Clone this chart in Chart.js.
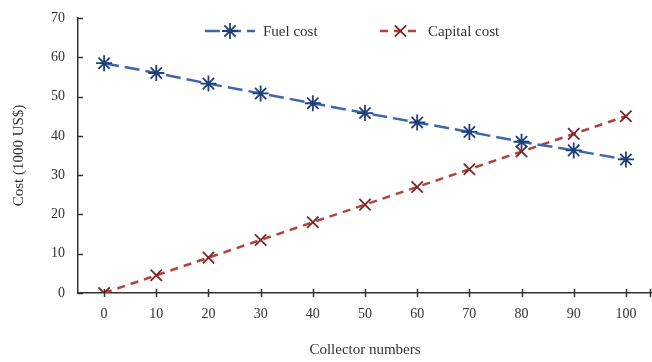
<!DOCTYPE html>
<html>
<head>
<meta charset="utf-8">
<script src="https://cdn.jsdelivr.net/npm/chart.js@4.4.0/dist/chart.umd.min.js"></script>
<style>
  html, body { margin: 0; padding: 0; background: #fff; }
  #wrap { width: 652px; height: 362px; }
</style>
</head>
<body>
<div id="wrap"><canvas id="chart" width="652" height="362"></canvas></div>
<script>
// chart data
const collectorNumbers = ['0', '10', '20', '30', '40', '50', '60', '70', '80', '90', '100'];
const fuelCost = [58.5, 56, 53.3, 50.8, 48.3, 45.8, 43.4, 41, 38.5, 36.3, 34];
const capitalCost = [0, 4.5, 9, 13.5, 18, 22.5, 27, 31.5, 36, 40.5, 45];
const yTicks = [0, 10, 20, 30, 40, 50, 60, 70];

const serif = "'Liberation Serif', 'DejaVu Serif', serif";
const textColor = '#333';

// tick marks: y ticks point inward, x ticks cross the axis
const tickMarks = {
  id: 'tickMarks',
  afterDraw(chart) {
    const ctx = chart.ctx;
    const x = chart.scales.x, y = chart.scales.y;
    ctx.save();
    ctx.strokeStyle = '#333';
    ctx.lineWidth = 1.5;
    yTicks.forEach(v => {
      const py = Math.round(y.getPixelForValue(v)) + 0.5;
      ctx.beginPath();
      ctx.moveTo(x.left, py);
      ctx.lineTo(x.left + 5, py);
      ctx.stroke();
    });
    const xs = collectorNumbers.map((c, i) => x.getPixelForValue(i));
    xs.push(x.right - 2);
    xs.forEach(p => {
      const px = Math.round(p) + 0.5;
      ctx.beginPath();
      ctx.moveTo(px, y.bottom - 4);
      ctx.lineTo(px, y.bottom + 4);
      ctx.stroke();
    });
    ctx.restore();
  }
};

// legend drawn inside the plot area, line + marker like the original
const innerLegend = {
  id: 'innerLegend',
  afterDraw(chart) {
    const ctx = chart.ctx;
    const items = [
      { ds: chart.data.datasets[0], x0: 205, x1: 255, tx: 263 },
      { ds: chart.data.datasets[1], x0: 380, x1: 421, tx: 428 }
    ];
    const ly = 31;
    items.forEach(it => {
      ctx.save();
      ctx.strokeStyle = it.ds.borderColor;
      ctx.lineWidth = it.ds.borderWidth;
      ctx.setLineDash(it.ds.borderDash);
      ctx.beginPath();
      ctx.moveTo(it.x0, ly);
      ctx.lineTo(it.x1, ly);
      ctx.stroke();
      ctx.setLineDash([]);
      ctx.strokeStyle = it.ds.pointBorderColor;
      ctx.fillStyle = it.ds.pointBackgroundColor;
      ctx.lineWidth = it.ds.pointBorderWidth;
      Chart.helpers.drawPoint(ctx, {
        pointStyle: it.ds.pointStyle,
        radius: it.ds.pointRadius,
        borderWidth: it.ds.pointBorderWidth,
        rotation: 0
      }, (it.x0 + it.x1) / 2, ly);
      ctx.fillStyle = textColor;
      ctx.font = "15px " + serif;
      ctx.textBaseline = 'middle';
      ctx.fillText(it.ds.label, it.tx, ly + 1);
      ctx.restore();
    });
  }
};

Chart.defaults.font.family = serif;
Chart.defaults.color = textColor;

new Chart(document.getElementById('chart'), {
  type: 'line',
  data: {
    labels: collectorNumbers,
    datasets: [
      {
        label: 'Fuel cost',
        data: fuelCost,
        borderColor: '#3d67aa',
        borderWidth: 2.5,
        borderDash: [15, 6],
        pointStyle: 'star',
        pointRadius: 8,
        pointBorderWidth: 1.8,
        pointBorderColor: '#1f3f7c',
        pointBackgroundColor: '#1f3f7c',
        tension: 0
      },
      {
        label: 'Capital cost',
        data: capitalCost,
        borderColor: '#b3423f',
        borderWidth: 2.5,
        borderDash: [8, 6],
        pointStyle: 'crossRot',
        pointRadius: 8,
        pointBorderWidth: 1.8,
        pointBorderColor: '#7e2424',
        pointBackgroundColor: '#7e2424',
        tension: 0
      }
    ]
  },
  options: {
    responsive: false,
    animation: false,
    layout: { autoPadding: false, padding: { top: 18, right: 0, left: 0, bottom: 0 } },
    plugins: {
      legend: { display: false },
      tooltip: { enabled: false }
    },
    scales: {
      x: {
        offset: true,
        grid: { display: false, drawTicks: false },
        border: { display: true, color: '#333', width: 1.5 },
        ticks: { font: { size: 14 }, color: textColor, padding: 13, maxRotation: 0 },
        title: {
          display: true,
          text: 'Collector numbers',
          font: { size: 15 },
          color: textColor,
          padding: { top: 0, bottom: 3 }
        },
        afterFit(scale) {
          scale.height = 69;
          scale.paddingLeft = 0;
          scale.paddingRight = 0;
        }
      },
      y: {
        min: 0,
        max: 70,
        ticks: { stepSize: 10, font: { size: 14 }, color: textColor, padding: 13 },
        grid: { display: false, drawTicks: false },
        border: { display: true, color: '#333', width: 1.5 },
        title: {
          display: true,
          text: 'Cost (1000 US$)',
          font: { size: 15 },
          color: textColor,
          padding: { top: 10, bottom: 0 }
        },
        afterFit(scale) {
          scale.width = 78;
          scale.paddingTop = 0;
          scale.paddingBottom = 0;
        }
      }
    }
  },
  plugins: [tickMarks, innerLegend]
});
</script>
</body>
</html>
